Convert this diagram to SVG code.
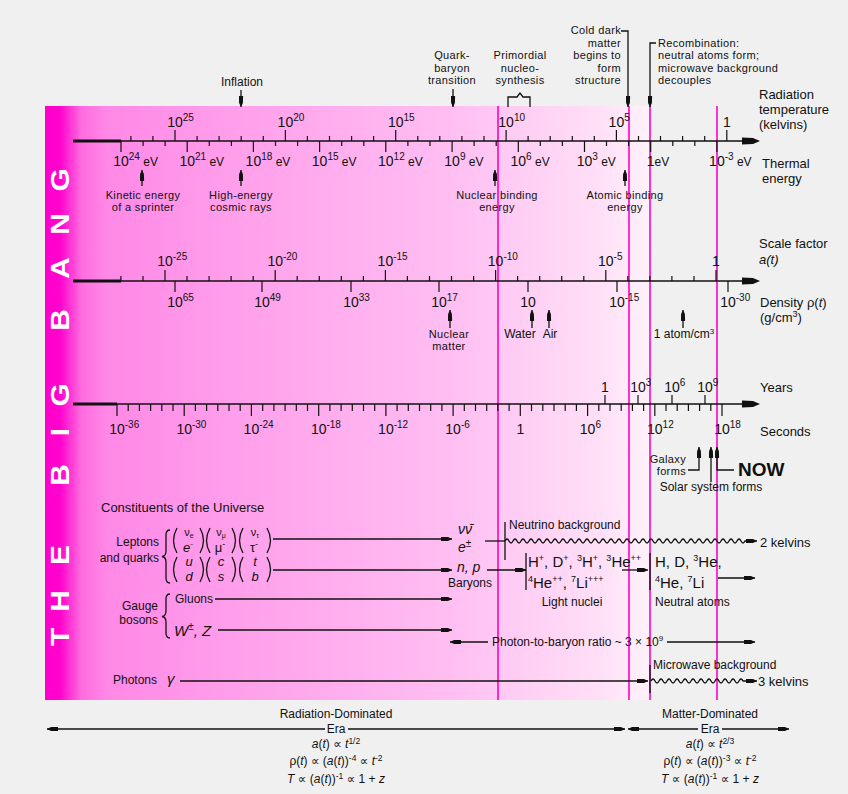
<svg xmlns="http://www.w3.org/2000/svg" width="848" height="794" viewBox="0 0 848 794">
<defs>
<linearGradient id="bandGrad" gradientUnits="userSpaceOnUse" x1="45" y1="0" x2="650" y2="0">
<stop offset="0" stop-color="#ff00cc"/>
<stop offset="0.025" stop-color="#ff04cd"/>
<stop offset="0.06" stop-color="#ff6cdf"/>
<stop offset="0.1" stop-color="#ff88e6"/>
<stop offset="0.3" stop-color="#ff9eeb"/>
<stop offset="0.67" stop-color="#ffbef2"/>
<stop offset="0.92" stop-color="#ffe0f7"/>
<stop offset="1" stop-color="#fff2fb"/>
</linearGradient>
<marker id="ah" viewBox="0 0 11 5" refX="11" refY="2.5" markerWidth="11" markerHeight="5" markerUnits="userSpaceOnUse" orient="auto">
<path d="M0,0.4 L7,0.6 L11,2.5 L7,4.4 L0,4.6 z" fill="#111"/>
</marker>
<style>
text{font-family:"Liberation Sans",Arial,"DejaVu Sans",sans-serif;fill:#111}
.n{font-size:14px}
.s{font-size:10px}
.a{font-size:12px}
.a2{font-size:11px;letter-spacing:0.35px}
.l{font-size:13px}
.i{font-style:italic}
.cm{text-anchor:middle}
.e{text-anchor:end}
.ax{stroke:#111;stroke-width:1.5;fill:none}
.th{stroke:#111;stroke-width:3;fill:none}
.tk{stroke:#111;stroke-width:1.2;fill:none}
.c{stroke:#111;stroke-width:1.3;fill:none}
.m{marker-end:url(#ah)}
.mg{stroke:#ff00cc;stroke-width:1.6}
.big{font-family:"Liberation Sans",Arial,sans-serif;font-weight:bold;font-size:26px;fill:#fff;text-anchor:middle}
.hd{fill:#111;stroke:none}
</style>
</defs>

<rect id="background" x="0" y="0" width="848" height="794" fill="#f0f0f0"/>
<rect id="band" x="45" y="106" width="605" height="594" fill="url(#bandGrad)"/>

<g id="title-letters">
<text class="big" transform="translate(60,637) rotate(-90) scale(1.15,1)" dy="0.36em">T</text>
<text class="big" transform="translate(60,601) rotate(-90) scale(1.15,1)" dy="0.36em">H</text>
<text class="big" transform="translate(60,555) rotate(-90) scale(1.15,1)" dy="0.36em">E</text>
<text class="big" transform="translate(60,475) rotate(-90) scale(1.15,1)" dy="0.36em">B</text>
<text class="big" transform="translate(60,432) rotate(-90) scale(1.15,1)" dy="0.36em">I</text>
<text class="big" transform="translate(60,395) rotate(-90) scale(1.15,1)" dy="0.36em">G</text>
<text class="big" transform="translate(60,320) rotate(-90) scale(1.15,1)" dy="0.36em">B</text>
<text class="big" transform="translate(60,268) rotate(-90) scale(1.15,1)" dy="0.36em">A</text>
<text class="big" transform="translate(60,224) rotate(-90) scale(1.15,1)" dy="0.36em">N</text>
<text class="big" transform="translate(60,180) rotate(-90) scale(1.15,1)" dy="0.36em">G</text>
</g>

<g id="era-lines">
<line class="mg" x1="498" y1="106" x2="498" y2="700"/>
<line class="mg" x1="629" y1="106" x2="629" y2="700"/>
<line class="mg" x1="650" y1="106" x2="650" y2="700"/>
<line class="mg" x1="717" y1="106" x2="717" y2="700"/>
</g>

<g id="axis-temperature">
<path class="th" d="M73,141 H121"/>
<path class="ax" d="M121,141 H745"/>
<path class="hd" d="M742,137.5 L753,138 L760,141 L753,144 L742,144.5 z"/>
<path class="tk" d="M130.9,141v-5M152.9,141v-5M197.1,141v-5M219.1,141v-5M241.2,141v-5M263.3,141v-5M307.4,141v-5M329.5,141v-5M351.6,141v-5M373.6,141v-5M417.8,141v-5M439.8,141v-5M461.9,141v-5M484,141v-5M528.1,141v-5M550.2,141v-5M572.3,141v-5M594.3,141v-5M638.5,141v-5M660.5,141v-5M682.6,141v-5M704.7,141v-5
M175,141v-11M285.4,141v-11M395.7,141v-11M506.1,141v-11M616.4,141v-11M726.8,141v-11
M143.1,141v5M165.1,141v5M209.3,141v5M231.4,141v5M275.5,141v5M297.6,141v5M341.7,141v5M363.8,141v5M407.9,141v5M430,141v5M474.1,141v5M496.2,141v5M540.3,141v5M562.4,141v5M606.5,141v5M628.6,141v5M672.8,141v5M694.8,141v5
M121,141v11M187.2,141v11M253.4,141v11M319.6,141v11M385.8,141v11M452.1,141v11M518.3,141v11M584.5,141v11M650.7,141v11M716.9,141v11"/>
<text class="n" x="167.2" y="127">10<tspan class="s" dy="-6">25</tspan></text>
<text class="n" x="277.6" y="127">10<tspan class="s" dy="-6">20</tspan></text>
<text class="n" x="387.9" y="127">10<tspan class="s" dy="-6">15</tspan></text>
<text class="n" x="498.3" y="127">10<tspan class="s" dy="-6">10</tspan></text>
<text class="n" x="608.6" y="127">10<tspan class="s" dy="-6">5</tspan></text>
<text class="n" x="722.9" y="127">1</text>
<text class="n" x="113.2" y="166">10<tspan class="s" dy="-6">24</tspan><tspan dy="6" font-size="12"> eV</tspan></text>
<text class="n" x="179.4" y="166">10<tspan class="s" dy="-6">21</tspan><tspan dy="6" font-size="12"> eV</tspan></text>
<text class="n" x="245.6" y="166">10<tspan class="s" dy="-6">18</tspan><tspan dy="6" font-size="12"> eV</tspan></text>
<text class="n" x="311.8" y="166">10<tspan class="s" dy="-6">15</tspan><tspan dy="6" font-size="12"> eV</tspan></text>
<text class="n" x="378" y="166">10<tspan class="s" dy="-6">12</tspan><tspan dy="6" font-size="12"> eV</tspan></text>
<text class="n" x="444.3" y="166">10<tspan class="s" dy="-6">9</tspan><tspan dy="6" font-size="12"> eV</tspan></text>
<text class="n" x="510.5" y="166">10<tspan class="s" dy="-6">6</tspan><tspan dy="6" font-size="12"> eV</tspan></text>
<text class="n" x="576.7" y="166">10<tspan class="s" dy="-6">3</tspan><tspan dy="6" font-size="12"> eV</tspan></text>
<text class="n" x="646.8" y="166">1<tspan font-size="12">eV</tspan></text>
<text class="n" x="709.1" y="166">10<tspan class="s" dy="-6">-3</tspan><tspan dy="6" font-size="12"> eV</tspan></text>
<text class="l"><tspan x="759" y="99">Radiation</tspan><tspan x="759" y="114">temperature</tspan><tspan x="759" y="129">(kelvins)</tspan></text>
<text class="l"><tspan x="762" y="168">Thermal</tspan><tspan x="762" y="183">energy</tspan></text>
</g>

<g id="axis-scale">
<path class="th" d="M73,281 H121"/>
<path class="ax" d="M121,281 H745"/>
<path class="hd" d="M742,277.5 L753,278 L760,281 L753,284 L742,284.5 z"/>
<path class="tk" d="M120.9,281v-5M143,281v-5M187,281v-5M209.1,281v-5M231.1,281v-5M253.2,281v-5M297.2,281v-5M319.3,281v-5M341.3,281v-5M363.4,281v-5M407.4,281v-5M429.5,281v-5M451.5,281v-5M473.6,281v-5M517.6,281v-5M539.7,281v-5M561.7,281v-5M583.8,281v-5M627.8,281v-5M649.9,281v-5M671.9,281v-5M694,281v-5
M165,281v-11M275.2,281v-11M385.4,281v-11M495.6,281v-11M605.8,281v-11M716,281v-11
M175,281v11M262,281v11M351,281v11M439,281v11M528,281v11M617,281v11M728,281v11"/>
<text class="n" x="157.2" y="266">10<tspan class="s" dy="-6">-25</tspan></text>
<text class="n" x="267.4" y="266">10<tspan class="s" dy="-6">-20</tspan></text>
<text class="n" x="377.6" y="266">10<tspan class="s" dy="-6">-15</tspan></text>
<text class="n" x="487.8" y="266">10<tspan class="s" dy="-6">-10</tspan></text>
<text class="n" x="598" y="266">10<tspan class="s" dy="-6">-5</tspan></text>
<text class="n" x="712.1" y="266">1</text>
<text class="n" x="167.2" y="307">10<tspan class="s" dy="-6">65</tspan></text>
<text class="n" x="254.2" y="307">10<tspan class="s" dy="-6">49</tspan></text>
<text class="n" x="343.2" y="307">10<tspan class="s" dy="-6">33</tspan></text>
<text class="n" x="431.2" y="307">10<tspan class="s" dy="-6">17</tspan></text>
<text class="n" x="520.2" y="307">10</text>
<text class="n" x="609.2" y="307">10<tspan class="s" dy="-6">-15</tspan></text>
<text class="n" x="720.2" y="307">10<tspan class="s" dy="-6">-30</tspan></text>
<text class="l"><tspan x="759" y="248">Scale factor</tspan><tspan x="759" y="264" class="i">a(t)</tspan></text>
<text class="l"><tspan x="760" y="307">Density ρ(</tspan><tspan class="i">t</tspan><tspan>)</tspan><tspan x="760" y="322">(g/cm</tspan><tspan font-size="9" dy="-5">3</tspan><tspan dy="5">)</tspan></text>
</g>

<g id="axis-time">
<path class="th" d="M73,404 H117"/>
<path class="ax" d="M117,404 H745"/>
<path class="hd" d="M742,400.5 L753,401 L760,404 L753,407 L742,407.5 z"/>
<path class="tk" d="M128.2,404v7M139.4,404v7M150.6,404v7M161.8,404v7M173,404v7M195.4,404v7M206.6,404v7M217.8,404v7M229,404v7M240.2,404v7M262.7,404v7M273.9,404v7M285.1,404v7M296.3,404v7M307.5,404v7M329.9,404v7M341.1,404v7M352.3,404v7M363.5,404v7M374.7,404v7M397.1,404v7M408.3,404v7M419.5,404v7M430.7,404v7M441.9,404v7M464.3,404v7M475.5,404v7M486.7,404v7M497.9,404v7M509.1,404v7M531.5,404v7M542.8,404v7M554,404v7M565.2,404v7M576.4,404v7M598.8,404v7M610,404v7M621.2,404v7M632.4,404v7M643.6,404v7M666,404v7M677.2,404v7M688.4,404v7M699.6,404v7M710.8,404v7
M117,404v12M184.2,404v12M251.4,404v12M318.7,404v12M385.9,404v12M453.1,404v12M520.3,404v12M587.6,404v12M654.8,404v12M722,404v12
M605,404v-9M638,404v-9M672,404v-9M705,404v-9"/>
<text class="n" x="109.2" y="434">10<tspan class="s" dy="-6">-36</tspan></text>
<text class="n" x="176.4" y="434">10<tspan class="s" dy="-6">-30</tspan></text>
<text class="n" x="243.6" y="434">10<tspan class="s" dy="-6">-24</tspan></text>
<text class="n" x="310.9" y="434">10<tspan class="s" dy="-6">-18</tspan></text>
<text class="n" x="378.1" y="434">10<tspan class="s" dy="-6">-12</tspan></text>
<text class="n" x="445.3" y="434">10<tspan class="s" dy="-6">-6</tspan></text>
<text class="n" x="516.4" y="434">1</text>
<text class="n" x="579.8" y="434">10<tspan class="s" dy="-6">6</tspan></text>
<text class="n" x="647" y="434">10<tspan class="s" dy="-6">12</tspan></text>
<text class="n" x="714.2" y="434">10<tspan class="s" dy="-6">18</tspan></text>
<text class="n" x="601.1" y="392">1</text>
<text class="n" x="630.2" y="392">10<tspan class="s" dy="-6">3</tspan></text>
<text class="n" x="664.2" y="392">10<tspan class="s" dy="-6">6</tspan></text>
<text class="n" x="697.2" y="392">10<tspan class="s" dy="-6">9</tspan></text>
<text class="l" x="760" y="392">Years</text>
<text class="l" x="760" y="436">Seconds</text>
</g>

<g id="inflation"><text class="a cm" x="242" y="86">Inflation</text></g>
<g id="quark-baryon"><text class="a2 cm"><tspan x="452" y="59.2">Quark-</tspan><tspan x="452" y="71.6">baryon</tspan><tspan x="452" y="84">transition</tspan></text></g>
<g id="nucleosynthesis"><text class="a2 cm"><tspan x="520" y="59.2">Primordial</tspan><tspan x="520" y="71.6">nucleo-</tspan><tspan x="520" y="84">synthesis</tspan></text></g>
<g id="cold-dark-matter"><text class="a2 e"><tspan x="621" y="34.4">Cold dark</tspan><tspan x="621" y="46.8">matter</tspan><tspan x="621" y="59.2">begins to</tspan><tspan x="621" y="71.6">form</tspan><tspan x="621" y="84">structure</tspan></text></g>
<g id="recombination"><text class="a2"><tspan x="658" y="46.8">Recombination:</tspan><tspan x="658" y="59.2">neutral atoms form;</tspan><tspan x="658" y="71.6">microwave background</tspan><tspan x="658" y="84">decouples</tspan></text></g>
<g id="sprinter"><text class="a2 cm"><tspan x="143" y="198.6">Kinetic energy</tspan><tspan x="143" y="211">of a sprinter</tspan></text></g>
<g id="cosmic-rays"><text class="a2 cm"><tspan x="241" y="198.6">High-energy</tspan><tspan x="241" y="211">cosmic rays</tspan></text></g>
<g id="nuclear-binding"><text class="a2 cm"><tspan x="497" y="198.6">Nuclear binding</tspan><tspan x="497" y="211">energy</tspan></text></g>
<g id="atomic-binding"><text class="a2 cm"><tspan x="625" y="198.6">Atomic binding</tspan><tspan x="625" y="211">energy</tspan></text></g>
<g id="nuclear-matter"><text class="a2 cm"><tspan x="449" y="337.6">Nuclear</tspan><tspan x="449" y="350">matter</tspan></text></g>
<g id="water"><text class="a cm" x="520" y="338">Water</text></g>
<g id="air"><text class="a cm" x="550" y="338">Air</text></g>
<g id="one-atom"><text class="a cm" x="684" y="338">1 atom/cm<tspan font-size="8" dy="-4">3</tspan></text></g>
<g id="galaxy"><text class="a2 e"><tspan x="686" y="463">Galaxy</tspan><tspan x="686" y="475.4">forms</tspan></text></g>
<g id="solar-system"><text class="a cm" x="711" y="491">Solar system forms</text></g>
<g id="now"><text x="738" y="476" font-size="19" font-weight="bold">NOW</text></g>

<g id="constituents-title"><text class="l" x="101" y="512">Constituents of the Universe</text></g>
<g id="leptons-quarks">
<text class="a e"><tspan x="159" y="546">Leptons</tspan><tspan x="159" y="562">and quarks</tspan></text>
<path class="c" d="M170,530 Q166,530 166,535 V551 Q166,556 162,556.5 Q166,557 166,562 V578 Q166,583 170,583"/>
<path class="c" d="M177,528 Q170,540.5 177,553 M200,528 Q207,540.5 200,553 M210,528 Q203,540.5 210,553 M232,528 Q239,540.5 232,553 M243,528 Q236,540.5 243,553 M267,528 Q274,540.5 267,553"/>
<path class="c" d="M177,557 Q170,569.5 177,582 M200,557 Q207,569.5 200,582 M210,557 Q203,569.5 210,582 M232,557 Q239,569.5 232,582 M243,557 Q236,569.5 243,582 M267,557 Q274,569.5 267,582"/>
<text class="cm"><tspan x="189" y="536" font-size="11">ν<tspan font-size="7" dy="1.5">e</tspan></tspan><tspan x="188" y="552" font-size="13" class="i">e<tspan font-size="9" dy="-5">-</tspan></tspan></text>
<text class="cm"><tspan x="221" y="536" font-size="11">ν<tspan font-size="7" dy="1.5">μ</tspan></tspan><tspan x="220" y="552" font-size="13">μ<tspan font-size="9" dy="-5">-</tspan></tspan></text>
<text class="cm"><tspan x="255" y="536" font-size="11">ν<tspan font-size="7" dy="1.5">τ</tspan></tspan><tspan x="254" y="552" font-size="13">τ<tspan font-size="9" dy="-5">-</tspan></tspan></text>
<text class="cm i" font-size="13"><tspan x="189" y="565.5">u</tspan><tspan x="189" y="580.5">d</tspan></text>
<text class="cm i" font-size="13"><tspan x="221" y="565.5">c</tspan><tspan x="221" y="580.5">s</tspan></text>
<text class="cm i" font-size="13"><tspan x="255" y="565.5">t</tspan><tspan x="255" y="580.5">b</tspan></text>
</g>
<g id="gauge-bosons">
<text class="a e"><tspan x="158" y="610">Gauge</tspan><tspan x="158" y="624">bosons</tspan></text>
<path class="c" d="M170,594 Q166,594 166,599 V611 Q166,616 162,616.5 Q166,617 166,622 V633 Q166,638 170,638"/>
<text class="a" x="175" y="603">Gluons</text>
<text class="i" x="174" y="636" font-size="15">W<tspan font-size="10" dy="-6">±</tspan><tspan dy="6">, Z</tspan></text>
</g>
<g id="photons"><text class="a" x="113" y="684">Photons</text><text class="i" x="167" y="684" font-size="15">γ</text></g>
<g id="neutrinos-electrons"><text class="i" font-size="14"><tspan x="458" y="534">νν̄</tspan><tspan x="458" y="552">e</tspan><tspan font-size="10" dy="-5">±</tspan></text></g>
<g id="baryons"><text class="i" x="457" y="572" font-size="14">n, p</text><text class="a" x="448" y="587">Baryons</text></g>
<g id="neutrino-background"><text class="a" x="509" y="529">Neutrino background</text><text class="l" x="760" y="547">2 kelvins</text></g>
<g id="light-nuclei">
<text font-size="15"><tspan x="528" y="567">H</tspan><tspan font-size="9" dy="-6">+</tspan><tspan dy="6">, D</tspan><tspan font-size="9" dy="-6">+</tspan><tspan dy="6">, </tspan><tspan font-size="9" dy="-6">3</tspan><tspan dy="6">H</tspan><tspan font-size="9" dy="-6">+</tspan><tspan dy="6">, </tspan><tspan font-size="9" dy="-6">3</tspan><tspan dy="6">He</tspan><tspan font-size="9" dy="-6">++</tspan><tspan x="528" y="582" font-size="9">4</tspan><tspan y="588">He</tspan><tspan font-size="9" dy="-6">++</tspan><tspan dy="6">, </tspan><tspan font-size="9" dy="-6">7</tspan><tspan dy="6">Li</tspan><tspan font-size="9" dy="-6">+++</tspan></text>
<text class="a cm" x="572" y="606">Light nuclei</text>
</g>
<g id="neutral-atoms">
<text font-size="15"><tspan x="655" y="567">H, D, </tspan><tspan font-size="9" dy="-6">3</tspan><tspan dy="6">He,</tspan><tspan x="655" y="582" font-size="9">4</tspan><tspan y="588">He, </tspan><tspan font-size="9" dy="-6">7</tspan><tspan dy="6">Li</tspan></text>
<text class="a" x="655" y="606">Neutral atoms</text>
</g>
<g id="photon-baryon-ratio"><text class="a" x="492" y="646">Photon-to-baryon ratio ~ 3 × 10<tspan font-size="8" dy="-5">9</tspan></text></g>
<g id="microwave-background"><text class="a" x="653" y="669">Microwave background</text><text class="l" x="758" y="686">3 kelvins</text></g>

<g id="radiation-era">
<text class="a cm"><tspan x="336" y="718">Radiation-Dominated</tspan><tspan x="336" y="733">Era</tspan></text>
<text class="a cm" x="336" y="748"><tspan class="i">a</tspan>(<tspan class="i">t</tspan>) ∝ <tspan class="i">t</tspan><tspan font-size="8.5" dy="-4">1/2</tspan></text>
<text class="a cm" x="336" y="765">ρ(<tspan class="i">t</tspan>) ∝ (<tspan class="i">a</tspan>(<tspan class="i">t</tspan>))<tspan font-size="8.5" dy="-4">-4</tspan><tspan dy="4"> ∝ </tspan><tspan class="i">t</tspan><tspan font-size="8.5" dy="-4">-2</tspan></text>
<text class="a cm" x="336" y="783"><tspan class="i">T</tspan> ∝ (<tspan class="i">a</tspan>(<tspan class="i">t</tspan>))<tspan font-size="8.5" dy="-4">-1</tspan><tspan dy="4"> ∝ 1 + </tspan><tspan class="i">z</tspan></text>
</g>
<g id="matter-era">
<text class="a cm"><tspan x="710" y="718">Matter-Dominated</tspan><tspan x="710" y="733">Era</tspan></text>
<text class="a cm" x="710" y="748"><tspan class="i">a</tspan>(<tspan class="i">t</tspan>) ∝ <tspan class="i">t</tspan><tspan font-size="8.5" dy="-4">2/3</tspan></text>
<text class="a cm" x="710" y="765">ρ(<tspan class="i">t</tspan>) ∝ (<tspan class="i">a</tspan>(<tspan class="i">t</tspan>))<tspan font-size="8.5" dy="-4">-3</tspan><tspan dy="4"> ∝ </tspan><tspan class="i">t</tspan><tspan font-size="8.5" dy="-4">-2</tspan></text>
<text class="a cm" x="710" y="783"><tspan class="i">T</tspan> ∝ (<tspan class="i">a</tspan>(<tspan class="i">t</tspan>))<tspan font-size="8.5" dy="-4">-1</tspan><tspan dy="4"> ∝ 1 + </tspan><tspan class="i">z</tspan></text>
</g>

<g id="connectors">
<path class="c m" d="M241,90 V107"/>
<path class="c m" d="M453,89 V107"/>
<path class="c" d="M508,107 V97 H517 L520,93 L523,97 H530 V107"/>
<path class="c m" d="M621,31 H628 V107"/>
<path class="c m" d="M656,43 H650 V107"/>
<path class="c m" d="M142,186 V170"/>
<path class="c m" d="M241,186 V170"/>
<path class="c m" d="M495,186 V170"/>
<path class="c m" d="M625,186 V170"/>
<path class="c m" d="M450,328 V310"/>
<path class="c m" d="M532,328 V310"/>
<path class="c m" d="M549,328 V310"/>
<path class="c m" d="M683,328 V310"/>
<path class="c m" d="M688,470 H699 V447"/>
<path class="c m" d="M711,482 V447"/>
<path class="c m" d="M734,470 H717 V447"/>
<path class="c m" d="M273,539 H452"/>
<path class="c m" d="M273,570 H452"/>
<path class="c m" d="M215,599 H452"/>
<path class="c m" d="M218,630 H452"/>
<path class="c m" d="M180,681 H648"/>
<path class="c" d="M485,541 H505"/>
<path class="c" d="M505,522 V560"/>
<path class="c m" d="M505,541 q2,-4 4,0 t4,0t4,0t4,0t4,0t4,0t4,0t4,0t4,0t4,0t4,0 t4,0t4,0t4,0t4,0t4,0t4,0t4,0t4,0t4,0t4,0 t4,0t4,0t4,0t4,0t4,0t4,0t4,0t4,0t4,0t4,0 t4,0t4,0t4,0t4,0t4,0t4,0t4,0t4,0t4,0t4,0 t4,0t4,0t4,0t4,0t4,0t4,0t4,0t4,0t4,0t4,0 t4,0t4,0t4,0t4,0t4,0t4,0t4,0t4,0t4,0 h12"/>
<path class="c m" d="M487,570 H526"/>
<path class="c" d="M526,553 V590"/>
<path class="c m" d="M622,570 H648"/>
<path class="c" d="M650,553 V590"/>
<path class="c m" d="M718,578 H755"/>
<path class="c m" d="M488,642 H450"/>
<path class="c m" d="M667,642 H755"/>
<path class="c" d="M650,665 V693"/>
<path class="c m" d="M651,681 q2,-4 4,0 t4,0t4,0t4,0t4,0t4,0t4,0t4,0t4,0t4,0t4,0 t4,0t4,0t4,0t4,0t4,0t4,0t4,0t4,0t4,0t4,0 t4,0t4,0 h14"/>
<path class="c m" d="M325,729 H47"/>
<path class="c m" d="M348,729 H625"/>
<path class="c m" d="M698,729 H628"/>
<path class="c m" d="M722,729 H789"/>
</g>
</svg>
